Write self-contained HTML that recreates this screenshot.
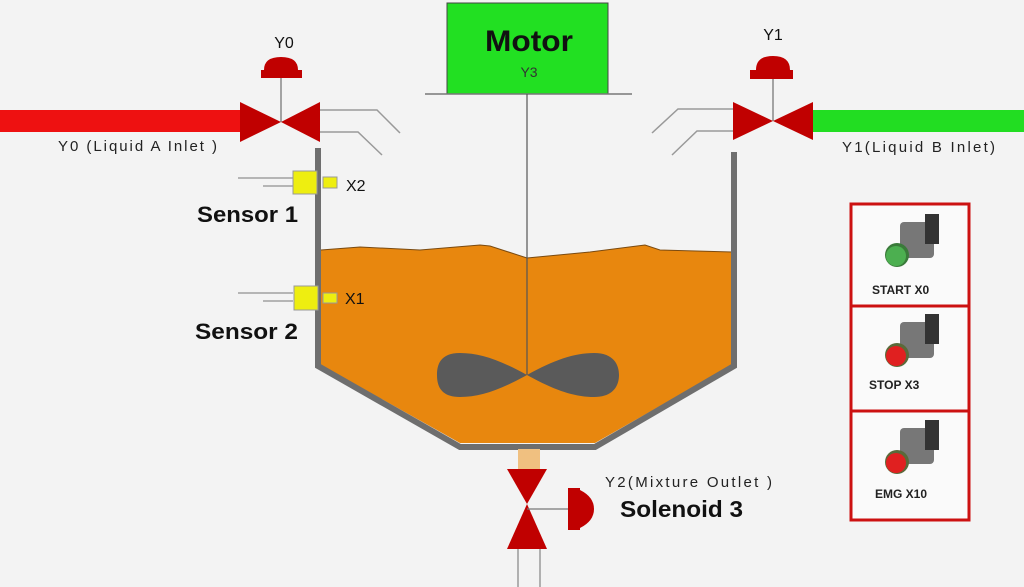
<!DOCTYPE html>
<html><head><style>
body{margin:0;width:1024px;height:587px;background:#f3f3f3;overflow:hidden}
svg{display:block}
text{font-family:"Liberation Sans",sans-serif}
</style></head><body>
<svg width="1024" height="587" viewBox="0 0 1024 587">
<rect width="1024" height="587" fill="#f3f3f3"/>
<!-- pipes -->
<rect x="0" y="110" width="242" height="22" fill="#ee1111"/>
<rect x="812" y="110" width="212" height="22" fill="#22dd22"/>
<!-- valve Y0 -->
<line x1="281" y1="78" x2="281" y2="122" stroke="#888" stroke-width="1.5"/>
<path d="M264 70 Q264 57 281 57 Q298 57 298 70 Z" fill="#c00000"/>
<rect x="261" y="70" width="41" height="8" fill="#c00000"/>
<polygon points="240,102 281,122 240,142" fill="#c00000"/>
<polygon points="320,102 281,122 320,142" fill="#c00000"/>
<text x="284" y="48" font-size="16" text-anchor="middle" fill="#111">Y0</text>
<polyline points="320,110 377,110 400,133" fill="none" stroke="#999" stroke-width="1.5"/>
<polyline points="320,132 358,132 382,155" fill="none" stroke="#999" stroke-width="1.5"/>
<!-- valve Y1 -->
<line x1="773" y1="78" x2="773" y2="121" stroke="#888" stroke-width="1.5"/>
<path d="M756 70 Q756 56 773 56 Q790 56 790 70 Z" fill="#c00000"/>
<rect x="750" y="70" width="43" height="9" fill="#c00000"/>
<polygon points="733,102 773,121 733,140" fill="#c00000"/>
<polygon points="813,102 773,121 813,140" fill="#c00000"/>
<text x="773" y="40" font-size="16" text-anchor="middle" fill="#111">Y1</text>
<polyline points="733,109 678,109 652,133" fill="none" stroke="#999" stroke-width="1.5"/>
<polyline points="733,131 697,131 672,155" fill="none" stroke="#999" stroke-width="1.5"/>
<text x="58" y="151" font-size="15" fill="#222" textLength="159" lengthAdjust="spacing">Y0 (Liquid A Inlet )</text>
<text x="842" y="152" font-size="15" fill="#222" textLength="153" lengthAdjust="spacing">Y1(Liquid B Inlet)</text>
<!-- motor -->
<rect x="447" y="3" width="161" height="91" fill="#22e022" stroke="#444" stroke-width="1"/>
<text x="529" y="51" font-size="30" font-weight="bold" text-anchor="middle" fill="#111" textLength="88" lengthAdjust="spacingAndGlyphs">Motor</text>
<text x="529" y="77" font-size="14" text-anchor="middle" fill="#333">Y3</text>
<line x1="425" y1="94" x2="632" y2="94" stroke="#777" stroke-width="1.5"/>
<!-- liquid -->
<path d="M321 250 L360 247 L420 250 L480 245 L490 246 L527 258 L590 252 L645 245 L660 250 L732 252 L732 365 L595 443 L460 443 L321 365 Z" fill="#e8870e"/>
<path d="M321 250 L360 247 L420 250 L480 245 L490 246 L527 258 L590 252 L645 245 L660 250 L732 252" fill="none" stroke="#7a4a10" stroke-width="1"/>
<!-- tank walls -->
<polyline points="318,148 318,366 460,447 595,447 734,366 734,152" fill="none" stroke="#6e6e6e" stroke-width="6"/>
<!-- shaft + impeller -->
<line x1="527" y1="94" x2="527" y2="375" stroke="#555" stroke-width="1.2"/>
<path d="M527 375 C500 360 480 353 460 353 C440 353 437 365 437 375 C437 385 440 397 460 397 C480 397 500 390 527 375 C554 360 574 353 594 353 C614 353 619 365 619 375 C619 385 614 397 594 397 C574 397 554 390 527 375 Z" fill="#5a5a5a"/>
<!-- outlet -->
<rect x="518" y="449" width="22" height="20" fill="#f0c080"/>
<polygon points="507,469 547,469 527,504" fill="#c00000"/>
<polygon points="507,549 547,549 527,504" fill="#c00000"/>
<line x1="527" y1="509" x2="583" y2="509" stroke="#777" stroke-width="1.2"/>
<rect x="568" y="488" width="12" height="42" fill="#c00000"/>
<path d="M580 490 Q594 497 594 509 Q594 521 580 528 Z" fill="#c00000"/>
<line x1="518" y1="549" x2="518" y2="587" stroke="#999" stroke-width="1.5"/>
<line x1="540" y1="549" x2="540" y2="587" stroke="#999" stroke-width="1.5"/>
<text x="605" y="487" font-size="15" fill="#222" textLength="167" lengthAdjust="spacing">Y2(Mixture Outlet )</text>
<text x="620" y="517" font-size="23" font-weight="bold" fill="#111" textLength="123" lengthAdjust="spacingAndGlyphs">Solenoid 3</text>
<!-- sensors -->
<line x1="238" y1="178" x2="293" y2="178" stroke="#777" stroke-width="1"/>
<line x1="263" y1="186" x2="293" y2="186" stroke="#777" stroke-width="1"/>
<rect x="293" y="171" width="24" height="23" fill="#eeee10" stroke="#999" stroke-width="1"/>
<rect x="323" y="177" width="14" height="11" fill="#eeee10" stroke="#999" stroke-width="1"/>
<text x="346" y="191" font-size="16" fill="#111">X2</text>
<text x="197" y="222" font-size="22" font-weight="bold" fill="#111" textLength="101" lengthAdjust="spacingAndGlyphs">Sensor 1</text>
<line x1="238" y1="293" x2="293" y2="293" stroke="#777" stroke-width="1"/>
<line x1="263" y1="301" x2="293" y2="301" stroke="#777" stroke-width="1"/>
<rect x="294" y="286" width="24" height="24" fill="#eeee10" stroke="#999" stroke-width="1"/>
<rect x="323" y="293" width="14" height="10" fill="#eeee10" stroke="#999" stroke-width="1"/>
<text x="345" y="304" font-size="16" fill="#111">X1</text>
<text x="195" y="339" font-size="22" font-weight="bold" fill="#111" textLength="103" lengthAdjust="spacingAndGlyphs">Sensor 2</text>
<!-- panel -->
<rect x="851" y="204" width="118" height="316" fill="#fafafa" stroke="#cc1111" stroke-width="3"/>
<line x1="851" y1="306" x2="969" y2="306" stroke="#cc1111" stroke-width="3"/>
<line x1="851" y1="411" x2="969" y2="411" stroke="#cc1111" stroke-width="3"/>
<g>
<rect x="900" y="222" width="34" height="36" rx="4" fill="#777"/><rect x="925" y="214" width="14" height="30" fill="#333"/>
<circle cx="897" cy="255" r="12" fill="#3a7a3a"/><circle cx="896" cy="256" r="10" fill="#4caf50"/>
<text x="872" y="294" font-size="12" font-weight="bold" fill="#222">START  X0</text>
</g>
<g>
<rect x="900" y="322" width="34" height="36" rx="4" fill="#777"/><rect x="925" y="314" width="14" height="30" fill="#333"/>
<circle cx="897" cy="355" r="12" fill="#5a6a3a"/><circle cx="896" cy="356" r="10" fill="#e02020"/>
<text x="869" y="389" font-size="12" font-weight="bold" fill="#222">STOP X3</text>
</g>
<g>
<rect x="900" y="428" width="34" height="36" rx="4" fill="#777"/><rect x="925" y="420" width="14" height="30" fill="#333"/>
<circle cx="897" cy="462" r="12" fill="#5a6a3a"/><circle cx="896" cy="463" r="10" fill="#e02020"/>
<text x="875" y="498" font-size="12" font-weight="bold" fill="#222">EMG X10</text>
</g>
</svg>
</body></html>
